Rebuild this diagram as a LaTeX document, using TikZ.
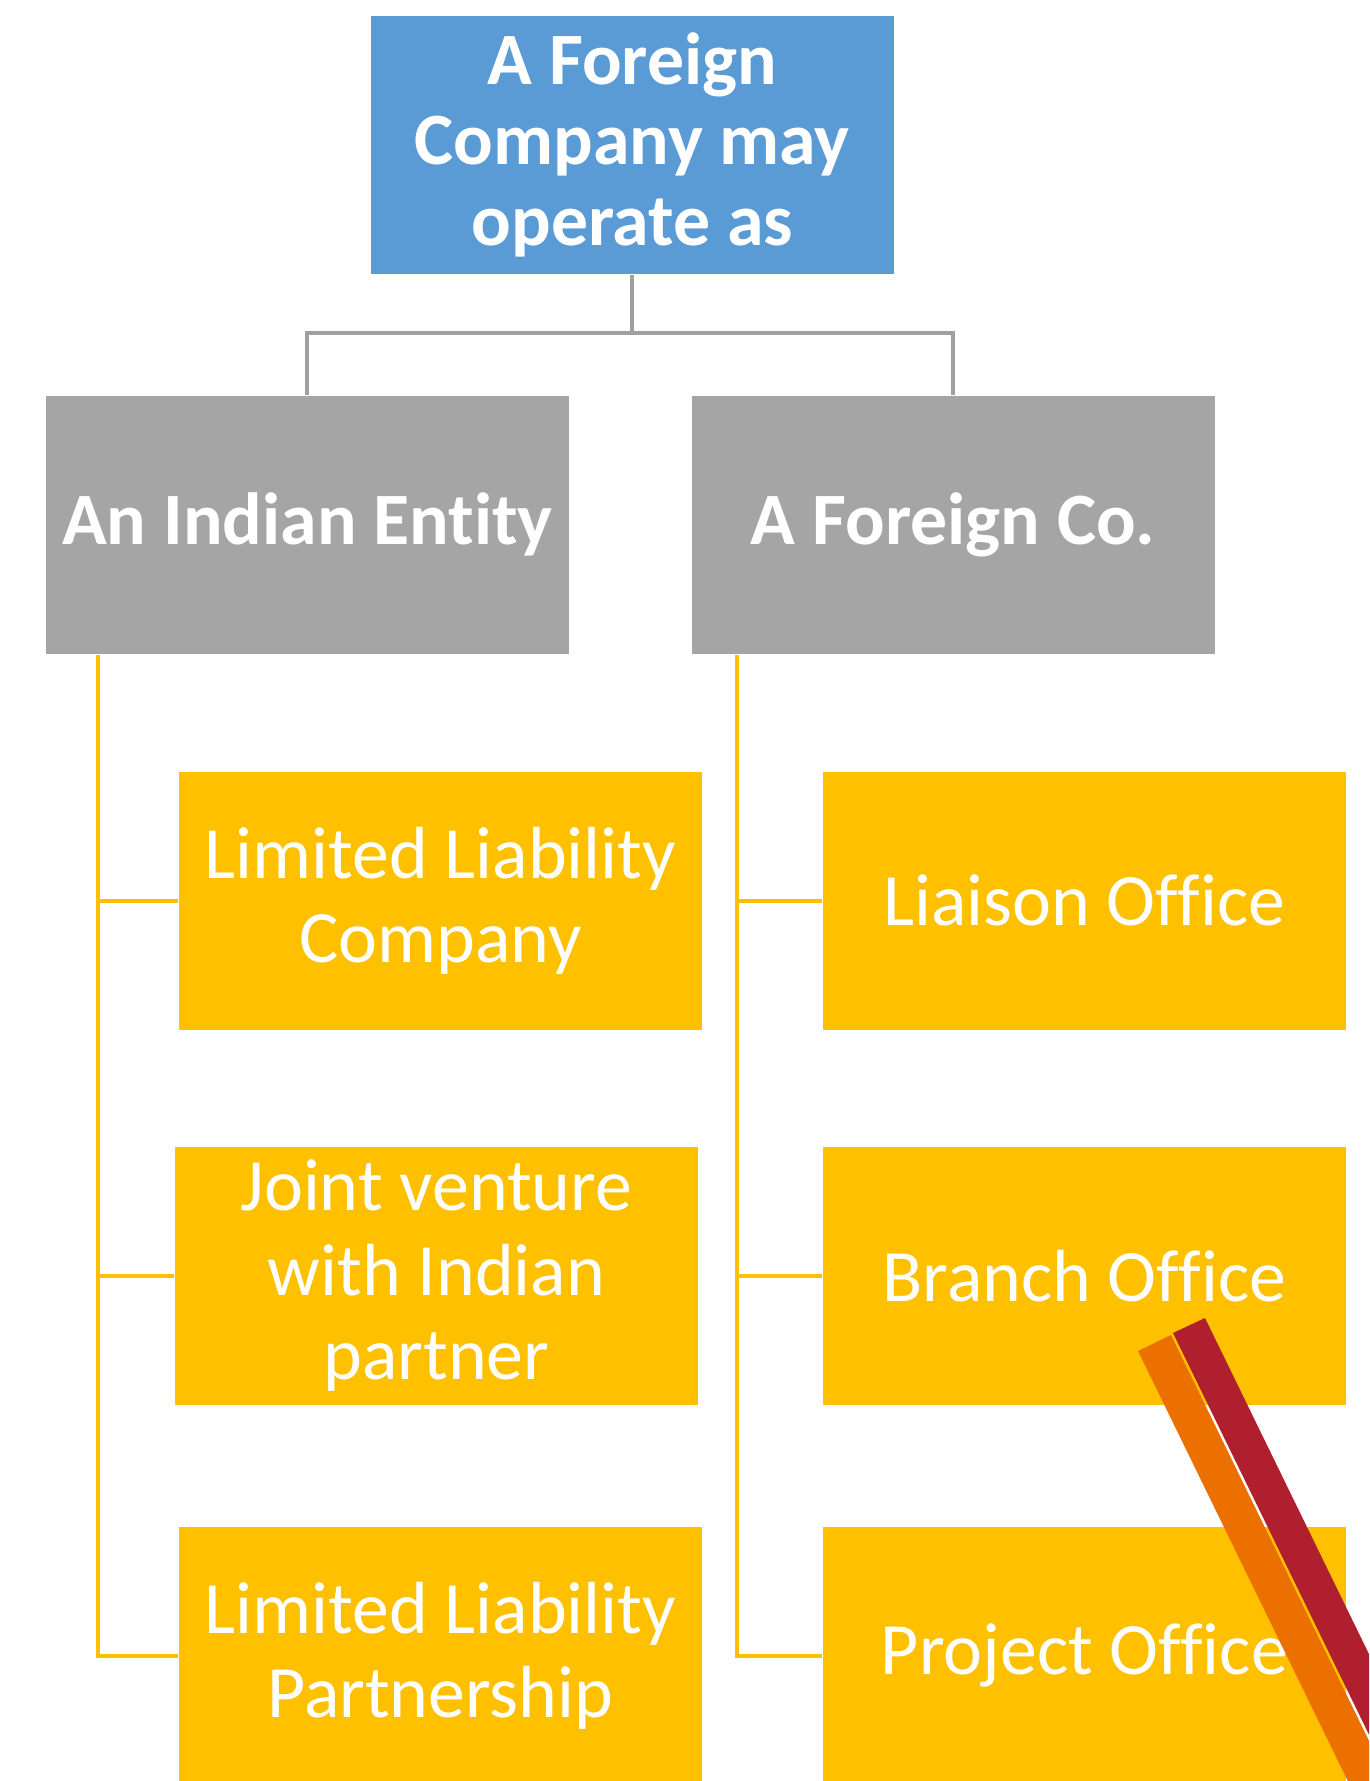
\documentclass[tikz,border=0pt]{standalone}
\usepackage{fontspec}
\setmainfont[Ligatures={NoCommon}]{Carlito}
\definecolor{cBlue}{HTML}{5B9BD5}
\definecolor{cGrey}{HTML}{A5A5A5}
\definecolor{cGold}{HTML}{FFC000}
\definecolor{cOrange}{HTML}{EC7000}
\definecolor{cRed}{HTML}{B01F2E}
\definecolor{cLink}{HTML}{A0A0A0}
\tikzset{
  orgbox/.style={anchor=north west, inner sep=0pt, align=center, text=white,
    minimum width=5.23cm, minimum height=2.58cm,
    font=\fontsize{21}{24}\selectfont},
  headbox/.style={orgbox, fill=cBlue, font=\fontsize{21}{23}\selectfont\bfseries},
  kindbox/.style={orgbox, fill=cGrey, font=\fontsize{21}{24}\selectfont\bfseries},
  formbox/.style={orgbox, fill=cGold},
  greylink/.style={cLink, line width=1.1pt},
  goldlink/.style={cGold, line width=1.1pt}
}

\begin{document}
\begin{tikzpicture}[x=0.01cm, y=-0.01cm]

  % --------------------------------------------------------------------------
  % Page
  % --------------------------------------------------------------------------
  \useasboundingbox (0,0) rectangle (1369,1781);
  \fill[white] (0,0) rectangle (1369,1781);
  \clip (0,0) rectangle (1369,1781);

  % --------------------------------------------------------------------------
  % Top and second level
  % --------------------------------------------------------------------------
  \node[headbox] (head) at (370,15) {A Foreign\\Company may\\operate as};

  \node[kindbox] (indian)  at (45,395)  {An Indian Entity};
  \node[kindbox] (foreign) at (691,395) {A Foreign Co.};

  \draw[greylink] (head.south) -- ++(0,58) -| (indian.north);
  \draw[greylink] (head.south) -- ++(0,58) -| (foreign.north);

  % --------------------------------------------------------------------------
  % LEFT: forms of an Indian entity
  % --------------------------------------------------------------------------
  \node[formbox] (llc)   at (178,771)  {Limited Liability\\Company};
  \node[formbox] (jv)    at (174,1146) {Joint venture\\with Indian\\partner};
  \node[formbox] (llp)   at (178,1526) {Limited Liability\\Partnership};

  \coordinate (lrail) at ([xshift=0.53cm]indian.south west);
  \draw[goldlink] (lrail) |- (llc.west);
  \draw[goldlink] (lrail) |- (jv.west);
  \draw[goldlink] (lrail) |- (llp.west);

  % --------------------------------------------------------------------------
  % RIGHT: offices of a foreign company
  % --------------------------------------------------------------------------
  \node[formbox] (liaison) at (822,771)  {Liaison Office};
  \node[formbox] (branch)  at (822,1146) {Branch Office};
  \node[formbox] (project) at (822,1526) {Project Office};

  \coordinate (rrail) at ([xshift=0.46cm]foreign.south west);
  \draw[goldlink] (rrail) |- (liaison.west);
  \draw[goldlink] (rrail) |- (branch.west);
  \draw[goldlink] (rrail) |- (project.west);

  % --------------------------------------------------------------------------
  % Corner stripes
  % --------------------------------------------------------------------------
  \fill[cOrange] (1138,1351) -- (1171,1335) -- (1434,1874) -- (1401,1890) -- cycle;
  \fill[cRed]    (1173,1333) -- (1205,1318) -- (1468,1857) -- (1436,1872) -- cycle;

\end{tikzpicture}
\end{document}
